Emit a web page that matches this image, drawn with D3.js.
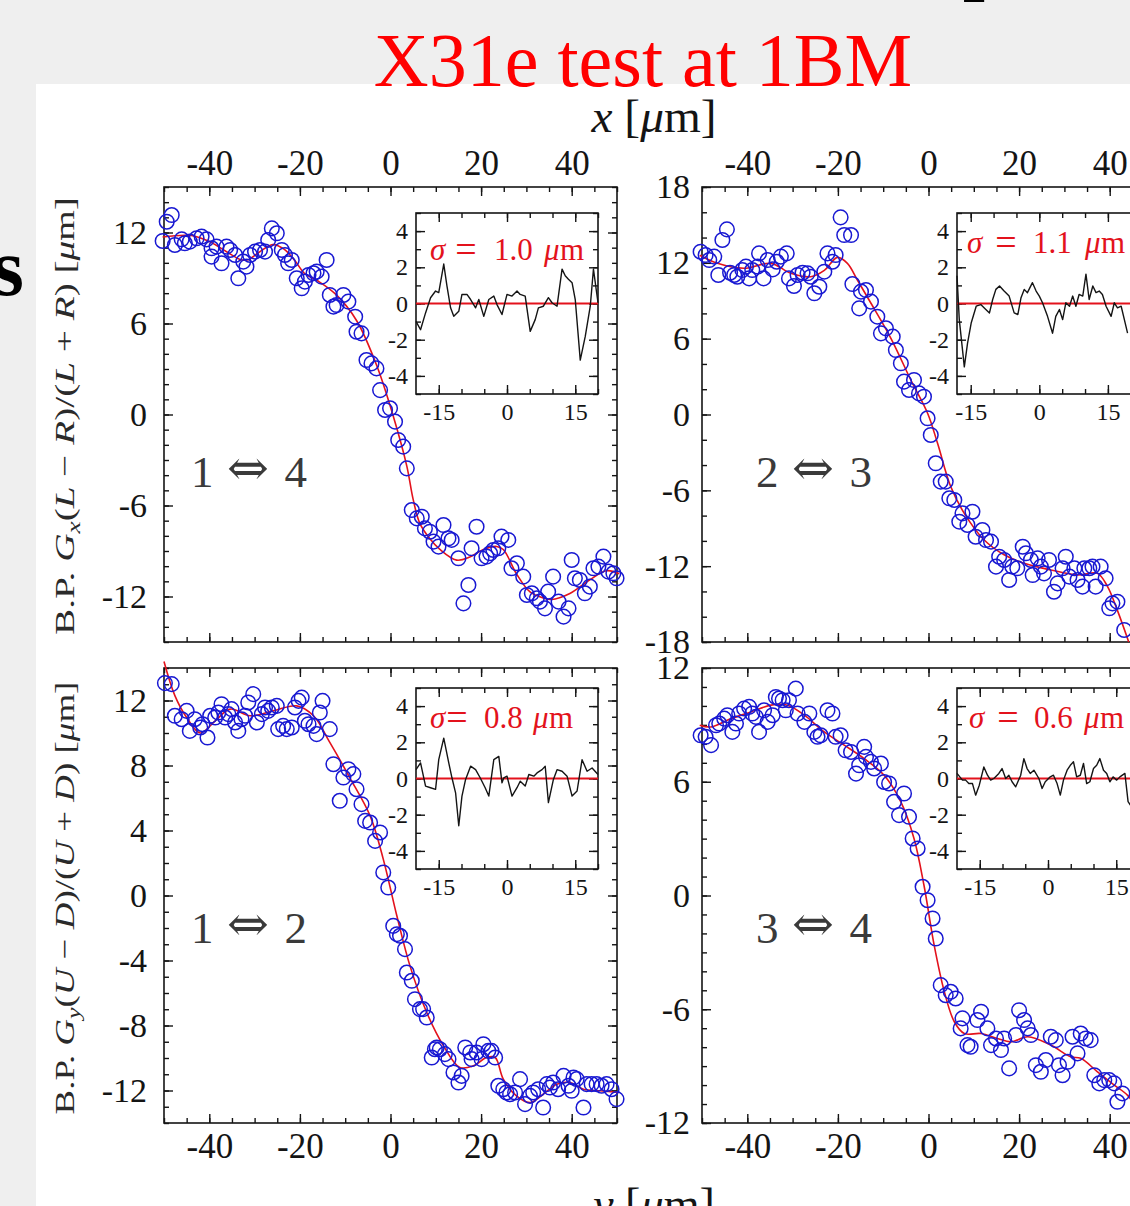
<!DOCTYPE html>
<html>
<head>
<meta charset="utf-8">
<title>X31e test at 1BM</title>
<script src="https://cdn.jsdelivr.net/npm/d3@7"></script>
<style>
  html, body { margin: 0; padding: 0; background: #efefef; }
  svg { display: block; }
</style>
</head>
<body>
<svg id="chart" width="1130" height="1206"></svg>
<script>
// ---------------- tick labels ----------------
const xTickValues = [-40, -20, 0, 20, 40];
const insetXTicks = [-15, 0, 15];
const insetYTicks = [-4, -2, 0, 2, 4];
const tlYTicks = [-12, -6, 0, 6, 12];
const trYTicks = [-18, -12, -6, 0, 6, 12, 18];
const blYTicks = [-12, -8, -4, 0, 4, 8, 12];
const brYTicks = [-12, -6, 0, 6, 12];

// ---------------- measured beam positions [x (um), signal (um)] ----------------
const tlPoints = [[-50.3,11.44],[-49.4,12.71],[-48.3,13.15],[-47.6,11.18],[-46.1,11.55],[-45.4,11.29],[-44.3,11.40],[-42.8,11.62],[-41.7,11.73],[-40.6,11.55],[-39.5,10.96],[-39.5,10.41],[-38.4,11.07],[-37.3,9.97],[-36.2,11.07],[-35.4,10.85],[-34.3,10.52],[-33.6,8.98],[-32.5,10.08],[-31.8,9.75],[-31.0,10.52],[-29.9,10.74],[-28.8,10.85],[-27.7,10.74],[-27.0,11.51],[-26.2,12.27],[-25.1,11.95],[-24.0,10.85],[-23.3,10.52],[-22.6,9.97],[-21.8,10.19],[-20.7,8.98],[-19.6,8.32],[-18.9,8.76],[-18.1,9.20],[-17.0,9.31],[-16.3,9.42],[-15.2,9.09],[-14.1,10.19],[-13.4,7.88],[-12.6,7.11],[-11.9,7.22],[-10.4,7.88],[-9.3,7.44],[-7.8,6.45],[-7.5,5.46],[-6.4,5.35],[-5.3,3.59],[-4.2,3.37],[-3.1,3.04],[-2.3,1.61],[-1.2,0.30],[-0.1,0.41],[1.0,-0.47],[1.7,-1.68],[2.8,-2.12],[3.6,-3.55],[4.7,-6.30],[5.8,-6.85],[6.9,-6.74],[7.6,-7.51],[8.7,-7.73],[9.5,-8.38],[10.6,-8.71],[11.7,-7.29],[12.8,-8.16],[13.5,-8.27],[15.0,-9.48],[16.1,-12.45],[17.2,-11.24],[17.9,-8.82],[19.0,-7.40],[20.1,-9.48],[21.2,-9.37],[22.0,-9.15],[22.7,-8.93],[23.8,-8.82],[24.5,-8.05],[26.0,-8.27],[26.7,-10.14],[27.9,-9.81],[29.3,-10.69],[30.1,-11.90],[31.2,-11.79],[32.3,-12.12],[33.0,-12.34],[34.1,-12.78],[34.8,-11.68],[35.9,-10.69],[37.1,-12.34],[38.2,-13.33],[39.3,-12.78],[40.0,-9.59],[40.7,-10.80],[41.8,-10.91],[42.9,-11.79],[44.0,-11.35],[44.8,-10.14],[45.9,-10.03],[47.0,-9.37],[48.1,-10.36],[49.2,-10.47],[49.9,-10.80]];
const trPoints = [[-50.3,12.88],[-49.2,12.62],[-48.4,12.22],[-47.3,12.49],[-46.4,11.04],[-45.5,13.81],[-44.5,14.65],[-43.8,11.22],[-42.9,11.04],[-42.2,10.90],[-41.1,11.43],[-40.3,11.70],[-39.6,10.77],[-38.9,11.43],[-37.7,11.70],[-37.4,12.75],[-36.4,10.77],[-35.5,12.22],[-34.4,11.48],[-33.5,12.09],[-32.6,12.49],[-31.3,12.75],[-30.8,10.77],[-29.7,10.17],[-28.9,11.04],[-27.8,11.22],[-26.7,11.17],[-26.0,10.90],[-25.2,9.59],[-24.1,10.11],[-23.0,11.30],[-22.3,12.75],[-21.2,12.09],[-20.5,12.62],[-19.4,15.60],[-18.6,14.20],[-17.1,14.20],[-16.8,10.32],[-15.3,8.40],[-14.9,9.72],[-13.8,9.85],[-12.7,8.93],[-11.3,7.74],[-10.5,6.42],[-9.4,6.82],[-7.9,6.16],[-7.2,5.10],[-6.1,4.05],[-5.4,2.60],[-4.3,1.94],[-3.2,2.73],[-2.1,1.67],[-1.0,1.41],[-0.2,-0.30],[0.5,-1.62],[1.6,-3.86],[2.7,-5.31],[3.8,-5.31],[4.6,-6.63],[5.7,-6.76],[6.8,-8.48],[7.5,-7.82],[8.6,-8.74],[9.7,-7.69],[10.4,-9.67],[11.9,-9.14],[12.7,-9.93],[13.8,-10.06],[14.9,-12.04],[15.6,-11.25],[16.7,-11.51],[17.8,-13.09],[18.5,-12.04],[19.6,-12.17],[20.8,-10.46],[21.5,-10.98],[22.6,-11.51],[23.0,-12.70],[24.1,-11.38],[24.8,-12.04],[25.5,-12.57],[26.6,-11.51],[27.7,-14.02],[28.5,-13.36],[29.6,-12.17],[30.3,-11.25],[31.1,-12.83],[32.2,-12.17],[32.9,-13.09],[34.0,-13.62],[34.4,-12.17],[35.5,-12.17],[36.2,-12.04],[36.9,-13.62],[38.0,-12.04],[39.1,-12.96],[39.9,-15.33],[40.6,-14.94],[41.7,-14.81],[43.2,-17.05]];
const blPoints = [[-49.8,13.07],[-48.3,13.01],[-47.6,11.06],[-46.1,10.85],[-45.0,11.36],[-44.3,10.13],[-43.2,10.85],[-42.0,10.34],[-41.5,10.54],[-40.4,9.72],[-39.8,11.06],[-38.7,10.95],[-38.0,11.26],[-37.3,11.77],[-36.5,10.95],[-35.8,11.16],[-35.1,11.47],[-34.3,10.65],[-33.6,10.13],[-32.9,10.85],[-32.1,11.06],[-31.4,11.88],[-30.3,12.39],[-29.5,10.65],[-28.4,11.16],[-27.7,11.57],[-27.0,11.36],[-26.2,11.57],[-25.1,11.67],[-24.8,10.24],[-23.7,10.44],[-22.9,10.24],[-21.8,10.34],[-21.1,11.57],[-20.3,11.98],[-19.6,12.18],[-18.9,10.75],[-18.1,10.54],[-17.0,10.44],[-16.3,9.93],[-15.6,11.26],[-15.0,11.98],[-13.4,10.24],[-12.6,8.08],[-11.2,5.83],[-10.4,7.26],[-9.3,7.77],[-8.2,7.47],[-7.5,6.54],[-6.4,5.62],[-5.6,4.59],[-4.5,4.49],[-3.4,3.36],[-2.3,3.88],[-1.6,1.42],[-0.5,0.49],[0.6,-1.87],[1.4,-2.38],[2.1,-2.48],[3.2,-3.30],[3.6,-4.74],[4.7,-5.25],[5.4,-6.38],[6.5,-6.99],[7.2,-6.99],[8.0,-7.51],[9.1,-9.97],[9.8,-9.46],[10.2,-9.35],[10.9,-9.46],[12.0,-9.76],[12.8,-10.07],[13.9,-10.89],[15.0,-11.51],[15.7,-11.10],[16.5,-9.35],[17.6,-9.66],[17.9,-10.07],[19.0,-9.66],[20.1,-10.07],[20.5,-9.15],[21.6,-9.56],[22.3,-9.56],[23.1,-9.97],[23.8,-11.71],[24.9,-11.92],[25.6,-12.12],[26.4,-12.23],[27.5,-12.12],[28.6,-11.30],[29.7,-12.84],[30.8,-12.33],[31.5,-12.12],[32.6,-11.92],[33.7,-13.05],[34.5,-11.61],[35.2,-11.82],[35.9,-11.51],[37.0,-11.92],[38.2,-11.10],[39.3,-11.71],[40.0,-12.02],[40.4,-11.20],[41.1,-11.30],[42.6,-13.05],[43.3,-11.61],[44.4,-11.61],[45.5,-11.61],[46.6,-11.71],[47.7,-11.61],[48.8,-11.92],[49.9,-12.53]];
const brPoints = [[-50.3,8.45],[-49.2,8.37],[-48.0,7.93],[-46.9,8.98],[-46.2,9.07],[-45.1,9.33],[-44.4,9.51],[-43.3,8.63],[-42.5,9.07],[-41.8,9.60],[-40.7,9.86],[-39.6,9.95],[-38.9,9.60],[-38.1,9.42],[-37.4,8.63],[-36.3,9.77],[-35.5,9.16],[-34.4,9.51],[-33.7,10.47],[-33.0,10.39],[-32.2,10.30],[-31.5,9.77],[-30.8,10.30],[-29.3,10.91],[-28.9,9.60],[-27.4,9.16],[-26.3,9.60],[-25.2,8.63],[-24.5,8.37],[-23.8,8.45],[-22.3,9.77],[-21.2,9.60],[-20.5,8.37],[-19.4,8.45],[-18.3,7.66],[-17.1,7.57],[-16.0,6.43],[-15.3,6.87],[-14.2,7.84],[-13.8,7.31],[-12.7,7.05],[-12.0,6.70],[-10.5,6.96],[-9.8,5.99],[-8.7,5.91],[-7.6,4.94],[-6.5,4.24],[-5.4,5.38],[-4.3,4.15],[-3.5,3.01],[-2.4,2.48],[-1.3,0.46],[-0.2,-0.25],[0.9,-1.21],[1.6,-2.27],[2.7,-4.73],[3.8,-5.26],[4.9,-5.08],[6.0,-5.43],[7.1,-7.01],[7.5,-6.48],[8.6,-7.89],[9.3,-7.98],[10.8,-6.57],[11.6,-6.13],[13.0,-7.01],[13.8,-7.89],[14.9,-7.54],[16.0,-8.15],[16.7,-7.54],[17.8,-9.12],[19.3,-7.36],[20.0,-6.05],[21.1,-6.57],[21.9,-7.01],[22.6,-7.36],[23.7,-8.95],[24.8,-9.30],[25.9,-8.68],[27.0,-7.45],[28.1,-7.63],[28.8,-8.95],[29.6,-9.48],[30.7,-8.77],[31.8,-7.45],[32.9,-8.33],[33.6,-7.28],[34.7,-7.54],[35.8,-7.63],[36.6,-9.48],[37.7,-9.91],[38.8,-9.74],[39.9,-9.74],[41.0,-9.91],[41.7,-10.88],[42.8,-10.44]];

// ---------------- fitted response curves (knots) ----------------
const tlFit = [[-50.3,11.7],[-44,11.8],[-40,11.4],[-36,10.7],[-33,10.2],[-31.5,10.2],[-29,10.7],[-26,11.2],[-23.5,10.9],[-21,10.1],[-19,9.3],[-16,8.8],[-12,7.9],[-7.5,6.2],[-3,3.2],[0.6,-0.1],[3.6,-3.4],[5.0,-5.6],[6.5,-7.2],[8.7,-8.2],[10.9,-8.9],[14.6,-9.6],[17.5,-9.4],[20.5,-8.9],[23.4,-8.7],[24.9,-8.9],[27.8,-10.5],[30.8,-11.7],[33.7,-12.1],[35.5,-12.2],[39.6,-11.8],[44,-10.9],[47.7,-10.3],[50.5,-10.5]];
const trFit = [[-50.5,12.6],[-46.6,11.96],[-40.7,11.57],[-34.8,11.96],[-30.4,11.17],[-26,10.9],[-23,11.4],[-20.1,12.43],[-17.9,11.96],[-15.7,10.64],[-12.7,8.8],[-8.3,6.03],[-3.9,2.73],[-0.2,0.1],[2,-2.28],[4.9,-5.7],[7.9,-7.82],[12.3,-9.93],[16.7,-11.1],[21.1,-11.77],[27,-12.3],[32.9,-12.7],[37.3,-12.57],[39.5,-13.6],[41.7,-15.5],[44.2,-18]];
const blFit = [[-50,14.4],[-47.6,12.3],[-45,10.95],[-42,10.0],[-38.7,10.75],[-35.4,11.47],[-31,11.06],[-25.9,11.36],[-20.7,11.67],[-17,11.06],[-13.4,9.42],[-9,7.26],[-4.5,4.9],[-1.6,2.24],[1.4,-1.25],[4.3,-4.33],[8,-7.2],[11.7,-9.25],[15.3,-10.58],[18.3,-10.48],[21.2,-9.97],[23.1,-9.97],[24.9,-11.3],[27.8,-12.33],[30.8,-12.74],[33.7,-12.23],[36.7,-11.61],[39.6,-11.51],[42.6,-11.92],[46.3,-12.02],[50.5,-12.12]];
const brFit = [[-50.5,8.98],[-48,8.89],[-43.6,9.33],[-39.2,9.68],[-34.8,10.04],[-31.1,10.04],[-27.4,9.51],[-23,8.63],[-18.6,7.93],[-14.2,7.22],[-9.8,6.34],[-6.1,4.94],[-3.2,3.01],[-1,0.54],[1.25,-2.62],[3.5,-5.08],[5.7,-6.66],[7.9,-7.28],[11.6,-7.28],[15.2,-7.54],[18.2,-7.72],[21.9,-7.45],[27,-7.89],[31.4,-8.51],[33.6,-8.59],[37.3,-9.3],[41,-10.0],[43.9,-10.53],[46,-11.2]];

// ---------------- fit residuals in the central region ----------------
const tlResidual = [[-20,-0.99],[-19.0,-1.45],[-17.9,-0.52],[-16.8,0.32],[-15.7,0.69],[-15.0,0.60],[-13.9,2.18],[-13.2,0.97],[-12.4,-0.24],[-11.7,-0.71],[-10.6,-0.43],[-9.9,0.50],[-8.8,0.50],[-8.0,0.22],[-6.9,-0.24],[-6.2,0.22],[-5.1,-0.71],[-4.0,0.22],[-2.9,0.41],[-2.2,-0.06],[-1.1,-0.61],[0,0.50],[1.1,0.41],[2.2,0.69],[2.9,0.50],[4.0,0.41],[5.1,-1.54],[6.2,-0.89],[6.9,-0.24],[8.0,-0.15],[9.1,0.32],[9.9,0.04],[11.0,-0.15],[12.1,1.90],[12.8,1.53],[13.5,1.34],[14.3,1.15],[15.0,0.22],[16.1,-3.13],[17.2,-1.82],[18.3,-0.15],[19.0,1.90],[20.0,0.04]];
const trResidual = [[-18.0,1.53],[-17.5,-0.89],[-16.4,-3.50],[-15.7,-2.20],[-14.9,-1.08],[-13.8,-0.15],[-12.8,-0.06],[-11.7,-0.33],[-10.9,-0.52],[-10.2,0.22],[-9.5,0.78],[-8.7,0.97],[-7.7,0.69],[-6.6,0.41],[-5.5,-0.52],[-4.7,-0.61],[-4.0,0.32],[-3.3,0.78],[-2.6,0.60],[-1.5,1.15],[-0.7,0.69],[0,0.41],[0.7,0.04],[1.8,-0.71],[2.9,-1.64],[3.6,-0.71],[4.4,-0.33],[5.1,-0.89],[5.8,0.04],[6.6,-0.15],[7.3,0.41],[8.0,-0.15],[8.7,0.50],[9.5,0.41],[10.2,1.62],[10.9,0.22],[11.7,0.97],[12.4,0.60],[13.1,0.69],[13.8,0.50],[14.6,-0.15],[15.7,-0.71],[16.4,0.04],[17.1,-0.24],[17.9,-0.15],[18.6,-0.89],[19.3,-1.64]];
const blResidual = [[-20,0.49],[-19.0,0.86],[-17.9,-0.42],[-16.8,-0.51],[-15.7,-0.60],[-15.0,1.04],[-13.9,2.23],[-12.8,0.86],[-12.1,0.04],[-11.3,-0.79],[-10.6,-2.61],[-9.9,-0.97],[-9.1,-0.05],[-8.0,0.68],[-6.9,0.49],[-5.9,0.04],[-4.8,-0.51],[-4.0,-0.97],[-2.9,1.04],[-1.8,1.22],[-1.1,-0.24],[-0.7,0.04],[0,0.13],[1.1,-0.97],[2.2,-0.51],[2.9,-0.15],[4.0,-0.42],[4.8,0.22],[5.9,0.13],[6.6,0.31],[7.7,0.49],[8.4,0.68],[9.1,-1.33],[10.2,-0.05],[11.0,0.49],[12.1,0.40],[13.2,0.13],[14.3,-0.97],[15.4,-0.69],[16.5,1.04],[17.6,0.40],[18.7,0.58],[20.0,0.22]];
const brResidual = [[-20,0.28],[-18.8,-0.09],[-18.1,-0.09],[-17.4,-0.28],[-16.6,-0.28],[-15.9,-0.92],[-15.1,-0.37],[-14.1,0.64],[-13.3,0.18],[-12.6,-0.09],[-11.9,0.0],[-10.8,0.28],[-10.1,0.55],[-9.3,0.0],[-8.6,0.18],[-7.9,-0.18],[-7.1,-0.46],[-6.0,0.18],[-5.3,1.10],[-4.6,0.55],[-3.9,0.28],[-3.1,0.46],[-2.0,0.0],[-1.3,-0.55],[-0.6,-0.18],[0.5,0.09],[1.2,0.18],[2.0,-0.28],[2.7,-0.92],[3.4,-0.09],[4.2,0.46],[4.9,0.73],[5.6,0.92],[6.3,0.09],[7.1,0.18],[7.8,0.83],[8.5,-0.28],[9.2,-0.18],[10.0,0.55],[10.7,0.73],[11.4,1.10],[12.2,0.46],[12.9,0.28],[13.6,-0.18],[14.3,0.09],[15.1,-0.09],[15.8,0.09],[16.9,0.28],[17.6,-1.28],[18.2,-1.5]];

// ---------------- layout & style ----------------
const W = 1130, H = 1206;
const SERIF = "'Liberation Serif', 'Times New Roman', serif";
const INK = "#141414";
const RED = "#e3121c";
const BLUE = "#1818d2";
const PW = 453, PH = 455;   // main panel size
const IW = 182, IH = 181;   // inset size

const svg = d3.select("#chart");

svg.append("rect").attr("width", W).attr("height", H).attr("fill", "#efefef");
svg.append("rect").attr("x", 36).attr("y", 84).attr("width", W - 36).attr("height", H - 84).attr("fill", "#ffffff");

// fragments of the surrounding slide text
svg.append("text").attr("x", 24).attr("y", 295).attr("text-anchor", "end")
  .attr("font-family", SERIF).attr("font-weight", "bold").attr("font-size", 82)
  .attr("fill", "#000").text("s");
svg.append("text").attr("x", 963).attr("y", -15)
  .attr("font-family", SERIF).attr("font-weight", "bold").attr("font-size", 78)
  .attr("fill", "#000").text("p");

// title
svg.append("text").attr("x", 643).attr("y", 86).attr("text-anchor", "middle")
  .attr("font-family", SERIF).attr("font-size", 76).attr("fill", "#ff0000")
  .text("X31e test at 1BM");

// ---------------- helpers ----------------
function richText(sel, parts) {
  parts.forEach(([s, kind]) => {
    const t = sel.append("tspan").text(s);
    if (kind === "i") t.attr("font-style", "italic");
    if (kind === "sub") t.attr("font-style", "italic").attr("font-size", "70%").attr("dy", "0.3em");
    if (kind === "ret") t.attr("dy", "-0.21em");
  });
  return sel;
}

function fitWidth(sel, target) {
  const w = sel.node().getBBox().width;
  const fs = +sel.attr("font-size");
  sel.attr("font-size", fs * target / w);
}

// stretch a text along its baseline to a given length, keeping glyph height
function stretchTo(sel, baseTransform, target) {
  const w = sel.node().getBBox().width;
  sel.attr("transform", `${baseTransform} scale(${target / w},1)`);
}

function tickLayer(g, axis, values, len, label) {
  axis.tickValues(values).tickSize(-len)
    .tickPadding(label ? label.pad : 0)
    .tickFormat(label ? (d => String(d)) : () => "");
  const a = g.append("g").call(axis);
  a.attr("font-family", null).attr("font-size", null);
  a.select(".domain").remove();
  a.selectAll(".tick line").attr("stroke", INK).attr("stroke-width", 1.4);
  if (label) {
    a.selectAll(".tick text").attr("fill", INK).attr("font-family", SERIF).attr("font-size", label.size);
  } else {
    a.selectAll(".tick text").remove();
  }
}

function frameAxes(g, x, y, box, spec) {
  const topG = g.append("g").attr("transform", `translate(0,${box.top})`);
  const botG = g.append("g").attr("transform", `translate(0,${box.top + box.h})`);
  const lefG = g.append("g").attr("transform", `translate(${box.left},0)`);
  const rigG = g.append("g").attr("transform", `translate(${box.left + box.w},0)`);

  tickLayer(topG, d3.axisTop(x), spec.xMinor, spec.minorLen, null);
  tickLayer(botG, d3.axisBottom(x), spec.xMinor, spec.minorLen, null);
  tickLayer(lefG, d3.axisLeft(y), spec.yMinor, spec.minorLen, null);
  tickLayer(rigG, d3.axisRight(y), spec.yMinor, spec.minorLen, null);

  tickLayer(topG, d3.axisTop(x), spec.xMajor, spec.majorLen, spec.xLabelSide === "top" ? spec.xLabel : null);
  tickLayer(botG, d3.axisBottom(x), spec.xMajor, spec.majorLen, spec.xLabelSide === "bottom" ? spec.xLabel : null);
  tickLayer(lefG, d3.axisLeft(y), spec.yMajor, spec.majorLen, spec.yLabel);
  tickLayer(rigG, d3.axisRight(y), spec.yMajor, spec.majorLen, null);

  g.append("rect").attr("x", box.left).attr("y", box.top)
    .attr("width", box.w).attr("height", box.h)
    .attr("fill", "none").attr("stroke", INK).attr("stroke-width", 1.6);
}

// ---------------- panels ----------------
const panels = [
  { left: 164, top: 187, yDomain: [-15, 15], yMajor: tlYTicks, yStep: 1, xSide: "top", yPad: 17,
    points: tlPoints, fit: tlFit, residual: tlResidual,
    inset: { left: 416, top: 213, domain: [-20, 20] },
    sigma: { y: 260, sym: 430, eq: 466, val: 494, mu: 544, m: 560, text: "1.0" },
    pair: { a: "1", b: "4", x: 191, y: 487 } },
  { left: 702, top: 187, yDomain: [-18, 18], yMajor: trYTicks, yStep: 2, xSide: "top", yPad: 12,
    points: trPoints, fit: trFit, residual: trResidual,
    inset: { left: 957, top: 213, domain: [-18, 21.8] },
    sigma: { y: 253, sym: 967, eq: 1006, val: 1033, mu: 1085, m: 1101, text: "1.1" },
    pair: { a: "2", b: "3", x: 756, y: 487 } },
  { left: 164, top: 668, yDomain: [-14, 14], yMajor: blYTicks, yStep: 1, xSide: "bottom", yPad: 17,
    points: blPoints, fit: blFit, residual: blResidual,
    inset: { left: 416, top: 688, domain: [-20, 20] },
    sigma: { y: 728, sym: 430, eq: 457, val: 484, mu: 533, m: 549, text: "0.8" },
    pair: { a: "1", b: "2", x: 191, y: 943 } },
  { left: 702, top: 668, yDomain: [-12, 12], yMajor: brYTicks, yStep: 1, xSide: "bottom", yPad: 12,
    points: brPoints, fit: brFit, residual: brResidual,
    inset: { left: 957, top: 688, domain: [-20, 20] },
    sigma: { y: 728, sym: 969, eq: 1008, val: 1034, mu: 1084, m: 1100, text: "0.6" },
    pair: { a: "3", b: "4", x: 756, y: 943 } }
];

const fitLine = d3.line().curve(d3.curveCatmullRom.alpha(0.5));

panels.forEach(p => {
  const g = svg.append("g");
  const x = d3.scaleLinear().domain([-50, 50]).range([p.left, p.left + PW]);
  const y = d3.scaleLinear().domain(p.yDomain).range([p.top + PH, p.top]);

  frameAxes(g, x, y, { left: p.left, top: p.top, w: PW, h: PH }, {
    xMinor: d3.range(-50, 50.001, 5), xMajor: xTickValues,
    yMinor: d3.range(p.yDomain[0], p.yDomain[1] + 1e-6, p.yStep), yMajor: p.yMajor,
    minorLen: 5, majorLen: 9, xLabelSide: p.xSide,
    xLabel: { size: 35, pad: p.xSide === "top" ? 12 : 10 },
    yLabel: { size: 34, pad: p.yPad }
  });

  // fitted curve
  g.append("path")
    .attr("d", fitLine.x(d => x(d[0])).y(d => y(d[1]))(p.fit))
    .attr("fill", "none").attr("stroke", RED).attr("stroke-width", 1.6);

  // measured points
  g.append("g").selectAll("circle").data(p.points).join("circle")
    .attr("cx", d => x(d[0])).attr("cy", d => y(d[1])).attr("r", 7.3)
    .attr("fill", "none").attr("stroke", BLUE).attr("stroke-width", 1.5);

  // channel pair label
  const pl = g.append("g").attr("fill", "#3a3a3a").attr("font-family", SERIF).attr("font-size", 45);
  pl.append("text").attr("x", p.pair.x).attr("y", p.pair.y).text(p.pair.a);
  pl.append("text").attr("x", p.pair.x + 57).attr("y", p.pair.y - 2).attr("text-anchor", "middle")
    .attr("font-family", "'DejaVu Serif', serif").attr("font-size", 50).text("\u21D4");
  pl.append("text").attr("x", p.pair.x + 116).attr("y", p.pair.y).attr("text-anchor", "end").text(p.pair.b);

  // residual inset
  const ins = p.inset;
  const ix = d3.scaleLinear().domain(ins.domain).range([ins.left, ins.left + IW]);
  const iy = d3.scaleLinear().domain([-5, 5]).range([ins.top + IH, ins.top]);
  const ig = g.append("g");
  ig.append("rect").attr("x", ins.left).attr("y", ins.top).attr("width", IW).attr("height", IH).attr("fill", "#fff");
  frameAxes(ig, ix, iy, { left: ins.left, top: ins.top, w: IW, h: IH }, {
    xMinor: d3.range(-15, 20.001, 5), xMajor: insetXTicks,
    yMinor: d3.range(-5, 5.001, 1), yMajor: insetYTicks,
    minorLen: 5, majorLen: 9, xLabelSide: "bottom",
    xLabel: { size: 24, pad: 9 }, yLabel: { size: 24, pad: 8 }
  });
  ig.append("line").attr("x1", ix(ins.domain[0])).attr("x2", ix(ins.domain[1]))
    .attr("y1", iy(0)).attr("y2", iy(0)).attr("stroke", RED).attr("stroke-width", 1.8);
  ig.append("path")
    .attr("d", d3.line().x(d => ix(d[0])).y(d => iy(d[1]))(p.residual))
    .attr("fill", "none").attr("stroke", INK).attr("stroke-width", 1.4).attr("stroke-linejoin", "round");

  // sigma annotation
  const s = p.sigma;
  const sg = ig.append("g").attr("fill", RED).attr("font-family", SERIF).attr("font-size", 31);
  sg.append("text").attr("x", s.sym).attr("y", s.y).attr("font-style", "italic").text("\u03C3");
  sg.append("text").attr("x", s.eq).attr("y", s.y + 2).attr("text-anchor", "middle").attr("font-size", 38).text("=");
  sg.append("text").attr("x", s.val).attr("y", s.y).text(s.text);
  sg.append("text").attr("x", s.mu).attr("y", s.y).attr("font-style", "italic").text("\u03BC");
  sg.append("text").attr("x", s.m).attr("y", s.y).text("m");
});

// ---------------- axis titles ----------------
const xTitle = svg.append("text").attr("x", 654).attr("y", 132).attr("text-anchor", "middle")
  .attr("font-family", SERIF).attr("font-size", 46).attr("fill", INK);
richText(xTitle, [["x", "i"], [" [", ""], ["\u03BC", "i"], ["m]", ""]]);
fitWidth(xTitle, 126);

const yBottomTitle = svg.append("text").attr("x", 654).attr("y", 1220).attr("text-anchor", "middle")
  .attr("font-family", SERIF).attr("font-size", 46).attr("fill", INK);
richText(yBottomTitle, [["y", "i"], [" [", ""], ["\u03BC", "i"], ["m]", ""]]);
fitWidth(yBottomTitle, 126);

const gxBase = "translate(74,416) rotate(-90)";
const gxTitle = svg.append("text").attr("transform", gxBase)
  .attr("text-anchor", "middle").attr("font-family", SERIF).attr("font-size", 28).attr("fill", "#2a2a2a");
richText(gxTitle, [["B.P. ", ""], ["G", "i"], ["x", "sub"], ["(", "ret"], ["L", "i"], [" \u2212 ", ""], ["R", "i"],
  [")/(", ""], ["L", "i"], [" + ", ""], ["R", "i"], [") [", ""], ["\u03BC", "i"], ["m]", ""]]);
stretchTo(gxTitle, gxBase, 438);

const gyBase = "translate(74,898) rotate(-90)";
const gyTitle = svg.append("text").attr("transform", gyBase)
  .attr("text-anchor", "middle").attr("font-family", SERIF).attr("font-size", 28).attr("fill", "#2a2a2a");
richText(gyTitle, [["B.P. ", ""], ["G", "i"], ["y", "sub"], ["(", "ret"], ["U", "i"], [" \u2212 ", ""], ["D", "i"],
  [")/(", ""], ["U", "i"], [" + ", ""], ["D", "i"], [") [", ""], ["\u03BC", "i"], ["m]", ""]]);
stretchTo(gyTitle, gyBase, 433);
</script>
</body>
</html>
